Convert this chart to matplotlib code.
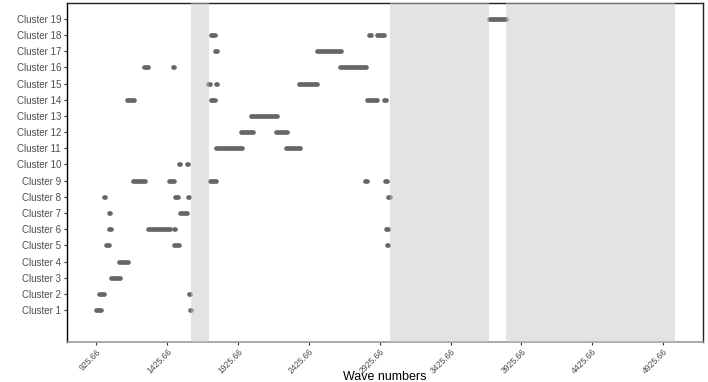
import matplotlib
matplotlib.use("Agg")
import matplotlib.pyplot as plt
from matplotlib.patches import Rectangle

plt.rcParams['font.family'] = ['Liberation Sans', 'DejaVu Sans']

# ---- data ----
cluster_labels = [f"Cluster {i}" for i in range(1, 20)]

seg_cluster = [1, 1,
               2, 2,
               3,
               4,
               5, 5, 5,
               6, 6, 6, 6,
               7, 7,
               8, 8, 8, 8,
               9, 9, 9, 9, 9,
               10, 10,
               11, 11,
               12, 12,
               13,
               14, 14, 14, 14,
               15, 15, 15,
               16, 16, 16,
               17, 17,
               18, 18, 18,
               19]
seg_start = [922, 1586,
             947, 1580,
             1028,
             1084,
             993, 1476, 2978,
             1018, 1291, 1474, 2972,
             1016, 1519,
             981, 1483, 1573, 2985,
             1185, 1441, 1726, 2825, 2966,
             1507, 1565,
             1772, 2262,
             1946, 2193,
             2019,
             1143, 1733, 2835, 2957,
             1718, 1770, 2360,
             1263, 1466, 2649,
             1765, 2484,
             1737, 2849, 2905,
             3695]
seg_end = [957, 1595,
           978, 1589,
           1091,
           1150,
           1018, 1509, 2987,
           1028, 1444, 1484, 2982,
           1026, 1566,
           991, 1504, 1583, 2995,
           1268, 1472, 1772, 2835, 2976,
           1516, 1574,
           1954, 2367,
           2029, 2271,
           2200,
           1192, 1765, 2905, 2967,
           1728, 1780, 2487,
           1293, 1476, 2826,
           1775, 2653,
           1761, 2863, 2955,
           3817]

rect_start = [1596, 2997, 3820]
rect_end = [1720, 3698, 5007]

x_ticks = [925.66 + 500 * k for k in range(9)]
x_tick_labels = [f"{t:.2f}" for t in x_ticks]

# ---- plot ----
fig = plt.figure(figsize=(7.08, 3.82), dpi=100)
ax = fig.add_axes([0.095, 0.1055, 0.8975, 0.8855])

lc = ax.hlines(seg_cluster, seg_start, seg_end, colors='#666666',
               linewidth=3.4, zorder=2)
lc.set_capstyle('round')

for s, e in zip(rect_start, rect_end):
    ax.add_patch(Rectangle((s, -10), e - s, 40, facecolor='#C8C8C8',
                           edgecolor='none', alpha=0.5, zorder=3))

ax.set_xlim(722, 5204)
ax.set_ylim(-0.95, 19.95)
ax.set_yticks(range(1, 20))
ax.set_yticklabels(cluster_labels, fontsize=7, color='#4D4D4D')
ax.set_xticks(x_ticks)
ax.set_xticklabels(x_tick_labels, fontsize=6.2, color='#4D4D4D',
                   rotation=45, ha='right', va='top', rotation_mode='anchor')
ax.tick_params(axis='both', length=2.5, width=0.8, color='#333333', pad=2)
ax.tick_params(axis='x', pad=1.5)
ax.set_xlabel("Wave numbers", fontsize=9, color='black')
ax.xaxis.set_label_coords(0.5, -0.104)
ax.xaxis.label.set_va('center')

for side in ['left', 'top', 'right']:
    ax.spines[side].set_color('#222222')
    ax.spines[side].set_linewidth(1.0)
ax.spines['bottom'].set_color('#999999')
ax.spines['bottom'].set_linewidth(1.2)
ax.spines['left'].set_color('black')

fig.savefig("out.png", dpi=100)
